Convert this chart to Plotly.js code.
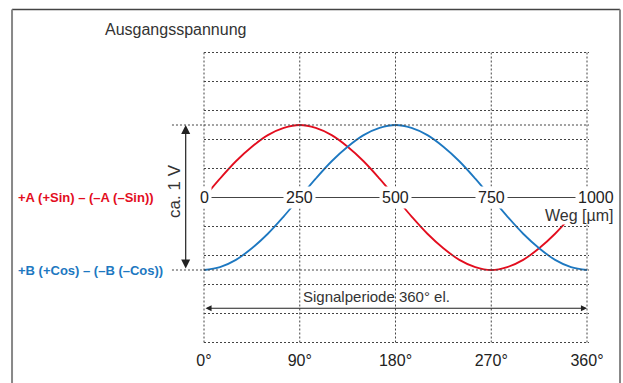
<!DOCTYPE html>
<html><head><meta charset="utf-8">
<script src="https://cdn.plot.ly/plotly-3.0.1.min.js"></script>
<style>html,body{margin:0;padding:0;background:#fff}</style>
</head><body><div id="chart" style="width:623px;height:383px"></div>
<script>
// ---- data ----
const phaseDeg = [0,15,30,45,60,75,90,105,120,135,150,165,180,195,210,225,240,255,270,285,300,315,330,345,360];
const sinSignal = [0,0.13,0.25,0.35,0.43,0.48,0.5,0.48,0.43,0.35,0.25,0.13,0,-0.13,-0.25,-0.35,-0.43,-0.48,-0.5,-0.48,-0.43,-0.35,-0.25,-0.13,0];
const cosSignal = [-0.5,-0.48,-0.43,-0.35,-0.25,-0.13,0,0.13,0.25,0.35,0.43,0.48,0.5,0.48,0.43,0.35,0.25,0.13,0,-0.13,-0.25,-0.35,-0.43,-0.48,-0.5];
const degreeTicks = [0,90,180,270,360];
const degreeLabels = ['0°','90°','180°','270°','360°'];
const wegTicks = [0,250,500,750,1000];        // µm
const wegPeriod = 1000;                          // µm per 360°
const gridLevels = [-1.0,-0.8,-0.6,-0.4,-0.2,0.2,0.4,0.6,0.8,1.0]; // V
const signalAmplitude = 0.5;                     // V (ca. 1 V peak-to-peak)

const RED = '#e30d1e', BLUE = '#1d78c1', INK = '#222', GRID = '#444';
const FONT = 'Liberation Sans, Arial, sans-serif';

const traces = [
  {x: phaseDeg, y: sinSignal, mode: 'lines', line: {color: RED, width: 1.8, shape: 'spline'}, hoverinfo: 'skip'},
  {x: phaseDeg, y: cosSignal, mode: 'lines', line: {color: BLUE, width: 1.8, shape: 'spline'}, hoverinfo: 'skip'}
];

const shapes = [];
// dotted grid
gridLevels.forEach(v => shapes.push({type:'line', xref:'x', yref:'y', x0:0, x1:361.9, y0:v, y1:v,
  line:{color:GRID, width:1, dash:'2px,2px'}}));
[signalAmplitude, -signalAmplitude].forEach(v => shapes.push({type:'line', xref:'x', yref:'y', x0:-30.1, x1:361.9, y0:v, y1:v,
  line:{color:GRID, width:1, dash:'2px,2px'}}));
degreeTicks.forEach(d => shapes.push({type:'line', xref:'x', yref:'y', x0:d, x1:d, y0:-1.0, y1:1.0,
  line:{color:GRID, width:1, dash:'2px,2px'}}));
// centre axis (Weg)
shapes.push({type:'line', xref:'x', yref:'y', x0:0, x1:360, y0:0, y1:0, line:{color:'#444', width:1}});
// frame
shapes.push({type:'line', xref:'paper', yref:'paper', x0:0.0193, x1:0.9952, y0:0.9752, y1:0.9752, line:{color:'#444', width:1.5}});
shapes.push({type:'line', xref:'paper', yref:'paper', x0:0.0193, x1:0.0193, y0:0.9752, y1:-0.05, line:{color:'#888', width:2}});
shapes.push({type:'line', xref:'paper', yref:'paper', x0:0.9952, x1:0.9952, y0:0.9752, y1:-0.05, line:{color:'#888', width:2}});

const annotations = [];
// Weg labels on the centre line
wegTicks.forEach((w, i) => annotations.push({x: w / wegPeriod * 360, y: 0, xref:'x', yref:'y', text: String(w),
  showarrow:false, bgcolor:'white', borderpad:2, xshift: (i === wegTicks.length-1 ? 9 : 0),
  font:{family:FONT, size:16, color:INK}}));
annotations.push({x:386.3, y:-0.126, xref:'x', yref:'y', xanchor:'right', text:'Weg [µm]', showarrow:false,
  bgcolor:'white', borderpad:0, font:{family:FONT, size:16, color:'#333'}});
// title
annotations.push({x:103/623, y:(383-30)/383, xref:'paper', yref:'paper', xanchor:'left', yanchor:'middle',
  text:'Ausgangsspannung', showarrow:false, font:{family:FONT, size:16, color:'#333'}});
// signal labels
annotations.push({x:16/623, y:0, xref:'paper', yref:'y', xanchor:'left', text:'<b>+A (+Sin) – (–A (–Sin))</b>',
  showarrow:false, font:{family:FONT, size:13, color:RED}});
annotations.push({x:16/623, y:-signalAmplitude, xref:'paper', yref:'y', xanchor:'left', text:'<b>+B (+Cos) – (–B (–Cos))</b>',
  showarrow:false, font:{family:FONT, size:13, color:BLUE}});
// ca. 1 V
annotations.push({x:-27.3, y:0.045, xref:'x', yref:'y', text:'ca. 1 V', textangle:-90, showarrow:false,
  font:{family:FONT, size:17, color:'#333'}});
// vertical double arrow
annotations.push({x:-17.2, y:signalAmplitude, ax:-17.2, ay:-signalAmplitude, xref:'x', yref:'y', axref:'x', ayref:'y',
  text:'', showarrow:true, arrowhead:2, arrowside:'end+start', arrowsize:1.5, arrowwidth:1.2, arrowcolor:INK, standoff:0, startstandoff:0});
// signal period arrow
annotations.push({x:360, y:-0.764, ax:0, ay:-0.764, xref:'x', yref:'y', axref:'x', ayref:'y',
  text:'', showarrow:true, arrowhead:2, arrowside:'end+start', arrowsize:1.1, arrowwidth:1.1, arrowcolor:INK, standoff:0, startstandoff:0});
annotations.push({x:90, y:-0.684, xref:'x', yref:'y', xanchor:'left', xshift:1, text:'Signalperiode 360° el.', showarrow:false,
  font:{family:FONT, size:15, color:'#333'}});

const layout = {
  width:623, height:383, margin:{l:0, r:0, t:0, b:0},
  paper_bgcolor:'white', plot_bgcolor:'white', showlegend:false,
  xaxis:{range:[-191.75, 393.83], anchor:'free', position:0.0888, showgrid:false, zeroline:false, showline:false,
    ticks:'', tickvals:degreeTicks, ticktext:degreeLabels, tickfont:{family:FONT, size:16, color:INK}, fixedrange:true},
  yaxis:{range:[-1.2793, 1.3621], visible:false, fixedrange:true},
  shapes: shapes, annotations: annotations
};
Plotly.newPlot('chart', traces, layout, {displayModeBar:false, staticPlot:true});
</script></body></html>
